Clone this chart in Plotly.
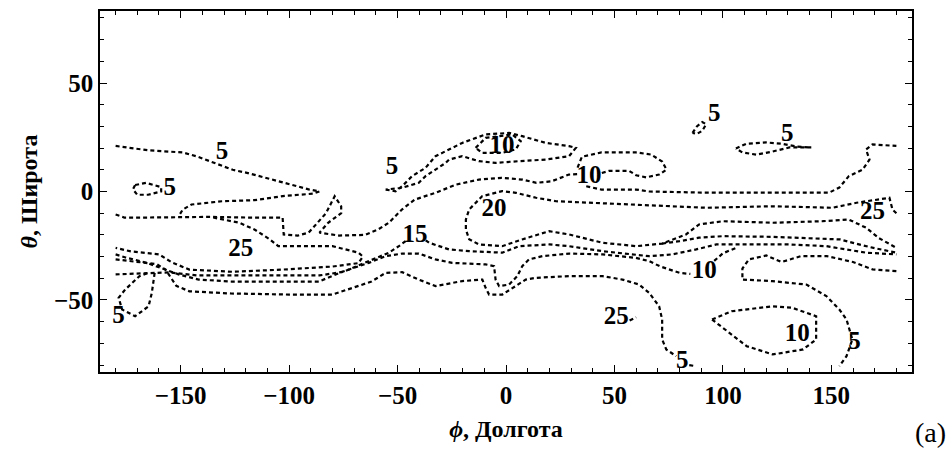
import plotly.graph_objects as go

# ---- contour polylines (longitude phi, latitude theta) ----
c1_lon = [-180, -165, -149, -142, -134, -126, -119, -108, -99, -91, -86, -89, -102, -116, -131, -145, -149, -151]
c1_lat = [21, 19, 18, 16, 13, 10, 8.5, 5.5, 3, 1, 0, -1, -2, -4, -4.5, -6, -8.3, -11.5]

c2_lon = [-171, -166, -159, -159, -165, -170, -172, -171]
c2_lat = [3, 4, 2, 0, -1.5, -1.5, 1, 3]

c3_lon = [-180, -176, -165, -151, -137, -119, -103, -102.5, -96, -91, -83, -79, -76, -76, -82, -86, -77, -65, -59, -54, -48, -42, -32.5, -23, -12.5, -2, 7.5, 14, 21, 29, 33]
c3_lat = [-10.6, -12, -12, -11.7, -11.7, -12, -12, -19.8, -20.3, -19, -10, -2.2, -6.8, -10, -14.4, -19, -20.3, -20, -17.5, -14.4, -8.3, -3.7, -0.6, 3.2, 5.5, 6.3, 5.5, 4, 4.7, 7.8, 8]

c4_lon = [-135, -123, -116, -109, -105, -96, -80, -68, -66, -68, -80, -103, -126, -146, -154, -160, -173, -180]
c4_lat = [-12, -14.4, -17.5, -22, -25.2, -25.2, -25.2, -28.2, -30, -33, -34.6, -36, -37, -36, -32.7, -29, -27.6, -26]

c15a_lon = [-180, -172, -161, -155, -142, -100, -86, -75, -63, -59, -54, -49.4, -46.3]
c15a_lat = [-38.2, -37.8, -37.3, -37.3, -38.7, -38.7, -38.7, -37, -32.1, -30.6, -28.2, -25.2, -22.9]
c15b_lon = [-37, -35.5, -26.3, -17, -1.7, 6, 20, 29, 44.5, 60, 66, 76.6, 87.7, 97, 107.6, 130.7, 147.7, 157, 166, 180]
c15b_lat = [-22.5, -23.6, -26.7, -27.5, -28.2, -25.2, -24.4, -25.2, -27.5, -29, -29.8, -29, -26.7, -24.4, -24.4, -24.4, -25.2, -26.7, -28.2, -29]

c6_lon = [-180, -175.4, -166.2, -157, -151, -141.7, -126.5, -86.3, -75.5, -63.3, -55.5, -47.9, -40.2, -32.5, -24.8, -9.4, -5.5, -4.8, -3.2, 1.4, 5.2, 7.5, 10.6, 16.8, 29.1, 44.5, 59.9, 66, 71, 80, 85]
c6_lat = [-29, -30.4, -32.7, -35.9, -38.2, -40.6, -41.5, -41.5, -37, -32.9, -29.8, -28.6, -28.6, -31.3, -32.9, -33.6, -34.4, -40.6, -43.6, -42.9, -39, -34.4, -31.3, -29.8, -28.6, -29, -30.6, -32.1, -34.5, -37.5, -38]
c6b_lon = [96, 100, 106]
c6b_lat = [-32, -28.5, -26]

c7_lon = [-180, -161, -157, -152, -146, -127, -100, -80, -71, -62, -55.5, -47.9, -40.2, -32.5, -20.2, -10.9, -9.4, -7.8, -1.7, 4.5, 9.1, 13.7, 29.1, 44.5, 53.7, 61.4, 66, 70.6, 72, 72, 73.9, 78.5]
c7_lat = [-31.3, -33.5, -36, -43.5, -46, -47, -47.5, -47.5, -44.5, -41.5, -37.5, -37.2, -40.6, -43.6, -41.3, -40.6, -44.4, -47.5, -47.5, -43.6, -40.6, -39.8, -39, -39, -40.6, -42.9, -46.7, -52.9, -59, -68.2, -72.8, -75.9]

c8_lon = [-162, -162.5, -163.3, -164.8, -171, -177, -178.6, -175.6, -172.5, -169, -165]
c8_lat = [-37.5, -40.6, -46.7, -52.9, -57.5, -54.4, -49, -45.2, -42.1, -39, -37.5]

c9_lon = [-55.5, -50.9, -47.9, -43.3, -37.1, -32.5, -27.8, -20.2, -9.4, 1.4, 7.5, 18.3, 29.1, 32.2, 29.1, 18.3, 6, -4.8, -12.5, -20.2, -26.3, -27.8, -32.5, -37.1, -40.2, -47.9, -55.5]
c9_lat = [0.9, 0.1, 2.4, 7.1, 10.9, 16.3, 18.6, 22.4, 26.3, 27, 25.5, 22.4, 20.9, 20.1, 16.3, 14.7, 14, 13.2, 14, 16.3, 14.7, 13.2, 10.1, 7.1, 4, 1.7, 0.9]

c10_lon = [-14, -9.4, 2.9, 6.8, 4.5, -1.7, -10.9, -14]
c10_lat = [20.1, 24.7, 26.3, 23.2, 19.4, 17.8, 17.8, 20.1]

c11_lon = [33, 35, 44, 60, 67, 72, 74, 70.6, 64.6, 60, 56.8, 47.5, 44]
c11_lat = [11, 16, 18, 18, 17, 13.8, 10.1, 7.8, 6.5, 7.5, 9.5, 9.5, 8.5]

c12_lon = [37, 44, 60, 66, 90, 123, 149, 153.7, 158, 164.4, 167.6, 166, 169, 180]
c12_lat = [2.4, 0.9, 0.9, 0, -0.5, -0.5, -0.5, 1.8, 7, 10.1, 14.7, 19.4, 21.7, 21]

c20_lon = [180, 178.2, 176.8, 161.6, 150.5, 122.8, 92.3, 66, 44.3, 23.1, 13.9, 4.6, -1.8, -11, -17, -18.5, -18.5, -17, -12.5, -1.8, 7.4, 19.9, 29.1, 44.3, 60, 72, 83, 89, 100, 123, 146, 158, 166, 172, 180]
c20_lat = [-10, -8.3, -2.9, -5.2, -7.5, -6.8, -7.5, -6.3, -5.2, -4.5, -2.9, -0.6, 0.2, -2.2, -8.3, -12.9, -17.5, -22, -24.4, -25.2, -22.1, -18.3, -19.8, -23.6, -25.2, -24, -19.8, -15.2, -13.7, -14.4, -13.7, -12.9, -16.7, -21.5, -26]

ca_lon = [72, 80, 89, 100, 123, 145, 154, 160, 169, 180]
ca_lat = [-24, -22.9, -21.3, -20.6, -20.9, -21.8, -22.1, -23.7, -25.9, -28.2]

cd_lon = [180, 169, 160, 148, 136, 127, 120, 112, 109, 109, 122.8, 138.5, 147.7, 153.7, 157, 159.7, 157, 153.7]
cd_lat = [-36.7, -35.9, -32.5, -29.8, -29.8, -32.5, -29.5, -31.3, -35.5, -40.6, -41.3, -42.9, -48.2, -54.4, -59, -68.2, -75.9, -80.5]

cf_lon = [95, 104, 123, 132, 143, 143, 137, 123, 111, 103, 95]
cf_lat = [-59, -55.2, -52.9, -53.6, -57.5, -68.2, -72.8, -75.1, -71.3, -65.1, -59]

cg_lon = [86, 88, 90.5, 92.3, 90.5, 88, 86]
cg_lat = [27, 30, 32, 31, 28, 26.5, 27]

ch_lon = [106, 110.8, 120, 127.4, 134, 140.8, 130.7, 122.8, 115.4, 109, 106]
ch_lat = [19.8, 22, 22.6, 22, 20.7, 20.3, 20.3, 18.4, 17, 18, 19.8]

ci_lon = [57, 60]
ci_lat = [-59.5, -58]
cj_lon = [84.5, 87.5]
cj_lat = [-80, -80.5]

lines = [
    (c1_lon, c1_lat), (c2_lon, c2_lat), (c3_lon, c3_lat), (c4_lon, c4_lat),
    (c15a_lon, c15a_lat), (c15b_lon, c15b_lat), (c6_lon, c6_lat), (c6b_lon, c6b_lat),
    (c7_lon, c7_lat), (c8_lon, c8_lat), (c9_lon, c9_lat), (c10_lon, c10_lat),
    (c11_lon, c11_lat), (c12_lon, c12_lat), (c20_lon, c20_lat), (ca_lon, ca_lat),
    (cd_lon, cd_lat), (cf_lon, cf_lat), (cg_lon, cg_lat), (ch_lon, ch_lat),
    (ci_lon, ci_lat), (cj_lon, cj_lat),
]

# ---- contour labels ----
label_text = ["5", "5", "25", "5", "5", "10", "10", "20", "15", "5", "5", "25", "10", "25", "10", "5", "5"]
label_lon = [-131, -155, -122.3, -178.7, -52.6, -1.8, 38.3, -5.5, -42, 96, 129.7, 169, 91.4, 50.8, 134.3, 160.7, 81.3]
label_lat = [18, 1.4, -26.7, -57.6, 11, 20.7, 6.9, -8.3, -20.3, 35.5, 26.3, -9.7, -36.9, -58, -65.9, -69.6, -78.3]

x_ticks = [-150, -100, -50, 0, 50, 100, 150]
y_ticks = [-50, 0, 50]

fig = go.Figure()
for lon, lat in lines:
    fig.add_trace(go.Scatter(x=lon, y=lat, mode="lines",
                             line=dict(color="black", width=2.2, dash="4px,3px"),
                             hoverinfo="skip", showlegend=False))

fig.add_trace(go.Scatter(x=label_lon, y=label_lat, mode="text", text=label_text,
                         textfont=dict(family="Liberation Serif", size=25, color="black", weight="bold"),
                         showlegend=False, hoverinfo="skip"))

axis_common = dict(showline=True, linecolor="black", linewidth=1.5, mirror="ticks",
                   ticks="inside", ticklen=7, tickwidth=1, tickcolor="black",
                   showgrid=False, zeroline=False, automargin=False,
                   tickfont=dict(family="Liberation Serif", size=25, color="black", weight="bold"),
                   minor=dict(ticks="inside", ticklen=4, tickwidth=1, tickcolor="black", dtick=10, showgrid=False))

fig.update_xaxes(range=[-187.2, 187.2], tickvals=x_ticks, **axis_common,
                 title=dict(text="<i>ϕ</i>, Долгота", font=dict(family="Liberation Serif", size=24, color="black", weight="bold"), standoff=12))
fig.update_yaxes(range=[-83.2, 83.2], tickvals=y_ticks, **axis_common,
                 title=dict(text="<i>θ</i>, Широта", font=dict(family="Liberation Serif", size=24, color="black", weight="bold"), standoff=10))

fig.add_annotation(text="(a)", xref="paper", yref="paper", x=1.0, y=0, xanchor="left", yanchor="middle",
                   xshift=1, yshift=-60, showarrow=False,
                   font=dict(family="Liberation Serif", size=28, color="black"))

fig.update_layout(width=951, height=452, margin=dict(l=100, r=39, t=11, b=80, autoexpand=False),
                  plot_bgcolor="white", paper_bgcolor="white")

fig.write_html("out.html", config={"displayModeBar": False},
               post_script="document.body.style.margin='0';document.body.style.padding='0';document.body.style.overflow='hidden';")
